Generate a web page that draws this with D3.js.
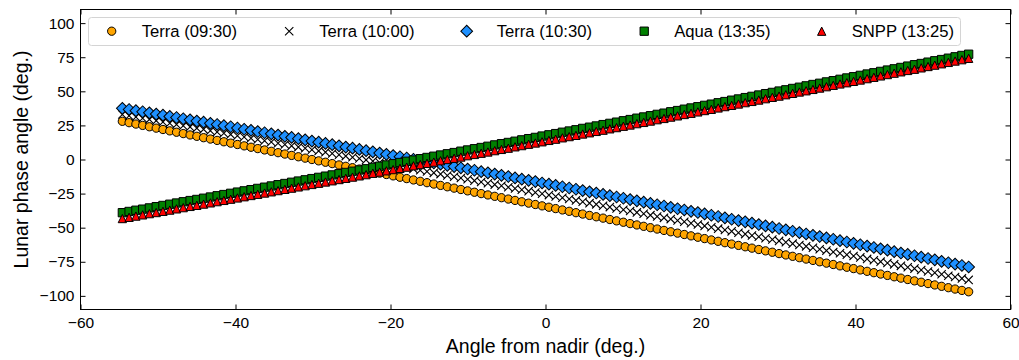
<!DOCTYPE html>
<html>
<head>
<meta charset="utf-8">
<script src="https://cdn.jsdelivr.net/npm/d3@7"></script>
<style>
  body { margin: 0; background: #fff; }
  text { font-family: "Liberation Sans", Arial, sans-serif; fill: #000; }
</style>
</head>
<body>
<div id="chart"></div>
<script>
/* global d3 */

// Angle from nadir (deg.), shared by every series
const nadirAngle = [
  -54.6, -53.73, -52.85, -51.98, -51.11, -50.23, -49.36, -48.48, -47.61, -46.74,
  -45.86, -44.99, -44.12, -43.24, -42.37, -41.5, -40.62, -39.75, -38.88, -38.0,
  -37.13, -36.25, -35.38, -34.51, -33.63, -32.76, -31.89, -31.01, -30.14, -29.27,
  -28.39, -27.52, -26.64, -25.77, -24.9, -24.02, -23.15, -22.28, -21.4, -20.53,
  -19.66, -18.78, -17.91, -17.04, -16.16, -15.29, -14.41, -13.54, -12.67, -11.79,
  -10.92, -10.05, -9.17, -8.3, -7.43, -6.55, -5.68, -4.8, -3.93, -3.06,
  -2.18, -1.31, -0.44, 0.44, 1.31, 2.18, 3.06, 3.93, 4.8, 5.68,
  6.55, 7.43, 8.3, 9.17, 10.05, 10.92, 11.79, 12.67, 13.54, 14.41,
  15.29, 16.16, 17.04, 17.91, 18.78, 19.66, 20.53, 21.4, 22.28, 23.15,
  24.02, 24.9, 25.77, 26.64, 27.52, 28.39, 29.27, 30.14, 31.01, 31.89,
  32.76, 33.63, 34.51, 35.38, 36.25, 37.13, 38.0, 38.88, 39.75, 40.62,
  41.5, 42.37, 43.24, 44.12, 44.99, 45.86, 46.74, 47.61, 48.48, 49.36,
  50.23, 51.11, 51.98, 52.85, 53.73, 54.6
]

// Lunar phase angle (deg.) per satellite
const terra0930 = [
  28, 27, 26, 25, 24, 23, 22, 21, 20, 19,
  18, 17, 16, 15, 14, 13, 12, 11, 10, 9,
  8, 7, 6, 5, 4, 3, 2, 1, 0, -1,
  -2, -3, -4, -5, -6, -7, -8, -9, -10, -11,
  -12, -13, -14, -15, -16, -17, -18, -19, -20, -21,
  -22, -23, -24, -25, -26, -27, -28, -29, -30, -31,
  -32, -33, -34, -35, -36, -37, -38, -39, -40, -41,
  -42, -43, -44, -45, -46, -47, -48, -49, -50, -51,
  -52, -53, -54, -55, -56, -57, -58, -59, -60, -61,
  -62, -63, -64, -65, -66, -67, -68, -69, -70, -71,
  -72, -73, -74, -75, -76, -77, -78, -79, -80, -81,
  -82, -83, -84, -85, -86, -87, -88, -89, -90, -91,
  -92, -93, -94, -95, -96, -97
]

const terra1000 = [
  33.0, 32.1, 31.2, 30.3, 29.4, 28.5, 27.5, 26.6, 25.7, 24.8,
  23.9, 23.0, 22.1, 21.1, 20.2, 19.3, 18.4, 17.4, 16.5, 15.6,
  14.7, 13.7, 12.8, 11.9, 11.0, 10.0, 9.1, 8.2, 7.2, 6.3,
  5.4, 4.4, 3.5, 2.5, 1.6, 0.7, -0.3, -1.2, -2.2, -3.1,
  -4.1, -5.0, -6.0, -6.9, -7.9, -8.8, -9.8, -10.7, -11.7, -12.6,
  -13.6, -14.5, -15.5, -16.5, -17.4, -18.4, -19.3, -20.3, -21.3, -22.2,
  -23.2, -24.2, -25.1, -26.1, -27.1, -28.1, -29.0, -30.0, -31.0, -32.0,
  -32.9, -33.9, -34.9, -35.9, -36.8, -37.8, -38.8, -39.8, -40.8, -41.8,
  -42.8, -43.7, -44.7, -45.7, -46.7, -47.7, -48.7, -49.7, -50.7, -51.7,
  -52.7, -53.7, -54.7, -55.7, -56.7, -57.7, -58.7, -59.7, -60.7, -61.7,
  -62.7, -63.7, -64.7, -65.8, -66.8, -67.8, -68.8, -69.8, -70.8, -71.8,
  -72.9, -73.9, -74.9, -75.9, -76.9, -78.0, -79.0, -80.0, -81.0, -82.1,
  -83.1, -84.1, -85.2, -86.2, -87.2, -88.3
]

const terra1030 = [
  37.5, 36.7, 35.8, 35.0, 34.2, 33.3, 32.5, 31.6, 30.8, 29.9,
  29.1, 28.2, 27.4, 26.5, 25.7, 24.8, 24.0, 23.1, 22.2, 21.4,
  20.5, 19.6, 18.8, 17.9, 17.0, 16.2, 15.3, 14.4, 13.5, 12.7,
  11.8, 10.9, 10.0, 9.1, 8.3, 7.4, 6.5, 5.6, 4.7, 3.8,
  2.9, 2.0, 1.1, 0.2, -0.7, -1.6, -2.5, -3.4, -4.3, -5.2,
  -6.1, -7.0, -7.9, -8.9, -9.8, -10.7, -11.6, -12.5, -13.5, -14.4,
  -15.3, -16.2, -17.2, -18.1, -19.0, -20.0, -20.9, -21.8, -22.8, -23.7,
  -24.6, -25.6, -26.5, -27.5, -28.4, -29.4, -30.3, -31.3, -32.2, -33.2,
  -34.1, -35.1, -36.1, -37.0, -38.0, -38.9, -39.9, -40.9, -41.8, -42.8,
  -43.8, -44.8, -45.7, -46.7, -47.7, -48.7, -49.6, -50.6, -51.6, -52.6,
  -53.6, -54.6, -55.6, -56.5, -57.5, -58.5, -59.5, -60.5, -61.5, -62.5,
  -63.5, -64.5, -65.5, -66.5, -67.6, -68.6, -69.6, -70.6, -71.6, -72.6,
  -73.6, -74.7, -75.7, -76.7, -77.7, -78.8
]

const aqua1335 = [
  -39.0, -38.1, -37.2, -36.4, -35.5, -34.6, -33.7, -32.8, -31.9, -31.0,
  -30.1, -29.3, -28.4, -27.5, -26.6, -25.7, -24.8, -23.9, -23.0, -22.1,
  -21.2, -20.3, -19.4, -18.5, -17.6, -16.7, -15.8, -14.9, -14.0, -13.1,
  -12.2, -11.3, -10.4, -9.5, -8.6, -7.7, -6.8, -5.8, -4.9, -4.0,
  -3.1, -2.2, -1.3, -0.4, 0.6, 1.5, 2.4, 3.3, 4.2, 5.1,
  6.1, 7.0, 7.9, 8.8, 9.7, 10.7, 11.6, 12.5, 13.4, 14.4,
  15.3, 16.2, 17.2, 18.1, 19.0, 20.0, 20.9, 21.8, 22.8, 23.7,
  24.6, 25.6, 26.5, 27.4, 28.4, 29.3, 30.3, 31.2, 32.1, 33.1,
  34.0, 35.0, 35.9, 36.9, 37.8, 38.7, 39.7, 40.6, 41.6, 42.5,
  43.5, 44.4, 45.4, 46.3, 47.3, 48.3, 49.2, 50.2, 51.1, 52.1,
  53.0, 54.0, 55.0, 55.9, 56.9, 57.8, 58.8, 59.8, 60.7, 61.7,
  62.7, 63.6, 64.6, 65.6, 66.5, 67.5, 68.5, 69.5, 70.4, 71.4,
  72.4, 73.3, 74.3, 75.3, 76.3, 77.2
]

const snpp1325 = [
  -43.3, -42.4, -41.5, -40.6, -39.7, -38.9, -38.0, -37.1, -36.2, -35.3,
  -34.4, -33.6, -32.7, -31.8, -30.9, -30.0, -29.1, -28.2, -27.3, -26.4,
  -25.5, -24.6, -23.7, -22.8, -21.9, -21.0, -20.1, -19.2, -18.3, -17.4,
  -16.5, -15.6, -14.7, -13.8, -12.9, -12.0, -11.1, -10.1, -9.2, -8.3,
  -7.4, -6.5, -5.6, -4.6, -3.7, -2.8, -1.9, -0.9, 0.0, 0.9,
  1.8, 2.8, 3.7, 4.6, 5.5, 6.5, 7.4, 8.3, 9.3, 10.2,
  11.2, 12.1, 13.0, 14.0, 14.9, 15.9, 16.8, 17.7, 18.7, 19.6,
  20.6, 21.5, 22.5, 23.4, 24.4, 25.3, 26.3, 27.2, 28.2, 29.2,
  30.1, 31.1, 32.0, 33.0, 33.9, 34.9, 35.9, 36.8, 37.8, 38.8,
  39.7, 40.7, 41.7, 42.6, 43.6, 44.6, 45.6, 46.5, 47.5, 48.5,
  49.5, 50.4, 51.4, 52.4, 53.4, 54.4, 55.4, 56.3, 57.3, 58.3,
  59.3, 60.3, 61.3, 62.3, 63.3, 64.3, 65.3, 66.2, 67.2, 68.2,
  69.2, 70.2, 71.2, 72.2, 73.2, 74.2
]

const seriesNames = ['Terra (09:30)', 'Terra (10:00)', 'Terra (10:30)', 'Aqua (13:35)', 'SNPP (13:25)']
const seriesValues = [terra0930, terra1000, terra1030, aqua1335, snpp1325]

// tick labels
const xTicks = [-60, -40, -20, 0, 20, 40, 60]
const yTicks = [-100, -75, -50, -25, 0, 25, 50, 75, 100]

// look of each series
const seriesColors = ['orange', 'black', '#1e90ff', 'green', 'red']
const seriesShapes = ['circle', 'cross', 'diamond', 'square', 'triangle']

// Our canvas
const width = 1019,
  height = 360,
  plotLeft = 80.5,
  plotRight = 1010.5,
  plotTop = 9.5,
  plotBottom = 309.5,
  markerSize = 8.3

let svg = d3.select('#chart')
  .append('svg')
  .attr('width', width)
  .attr('height', height)

const xScale = d3.scaleLinear().domain([-60, 60]).range([plotLeft, plotRight])
const yScale = d3.scaleLinear().domain([-110, 110]).range([plotBottom, plotTop])

// marker shapes, centred on 0,0
let markerPath = (shape, s) => {
  const h = s / 2
  if (shape === 'circle') return d3.symbol(d3.symbolCircle, Math.PI * h * h)()
  if (shape === 'square' || shape === 'diamond') return d3.symbol(d3.symbolSquare, s * s)()
  if (shape === 'triangle') return `M0,${-h}L${h},${h}L${-h},${h}Z`
  return `M${-h},${-h}L${h},${h}M${-h},${h}L${h},${-h}`
}

let styleMarker = (sel, k) => {
  const shape = seriesShapes[k]
  sel.attr('d', markerPath(shape, markerSize))
  if (shape === 'cross') {
    sel.attr('fill', 'none').attr('stroke', seriesColors[k]).attr('stroke-width', 1.1)
  } else {
    sel.attr('fill', seriesColors[k]).attr('stroke', '#000').attr('stroke-width', 1)
  }
}

let place = (px, py, shape) => `translate(${px},${py})` + (shape === 'diamond' ? ' rotate(45)' : '')

// axes: ticks pointing inwards on all four sides
let styleAxis = (g) => {
  g.selectAll('.domain').remove()
  g.selectAll('line').attr('stroke', '#000').attr('stroke-width', 1)
  g.selectAll('text').style('font-size', '15.5px').attr('fill', '#000')
}

svg.append('g')
  .attr('transform', `translate(0,${plotBottom})`)
  .call(d3.axisBottom(xScale).tickValues(xTicks).tickSizeInner(-5).tickSizeOuter(0).tickPadding(7))
  .call(styleAxis)

svg.append('g')
  .attr('transform', `translate(0,${plotTop})`)
  .call(d3.axisTop(xScale).tickValues(xTicks).tickSizeInner(-5).tickSizeOuter(0).tickFormat(''))
  .call(styleAxis)

svg.append('g')
  .attr('transform', `translate(${plotLeft},0)`)
  .call(d3.axisLeft(yScale).tickValues(yTicks).tickSizeInner(-5).tickSizeOuter(0).tickPadding(6))
  .call(styleAxis)

svg.append('g')
  .attr('transform', `translate(${plotRight},0)`)
  .call(d3.axisRight(yScale).tickValues(yTicks).tickSizeInner(-5).tickSizeOuter(0).tickFormat(''))
  .call(styleAxis)

// the scatter series, drawn in order
seriesValues.forEach((vals, k) => {
  svg.append('g')
    .selectAll('path')
    .data(vals)
    .join('path')
    .call(styleMarker, k)
    .attr('transform', (d, i) => place(xScale(nadirAngle[i]), yScale(d), seriesShapes[k]))
})

// frame
svg.append('rect')
  .attr('x', plotLeft)
  .attr('y', plotTop)
  .attr('width', plotRight - plotLeft)
  .attr('height', plotBottom - plotTop)
  .attr('fill', 'none')
  .attr('stroke', '#000')
  .attr('stroke-width', 1)

// axis titles
svg.append('text')
  .attr('x', (plotLeft + plotRight) / 2)
  .attr('y', 353)
  .attr('text-anchor', 'middle')
  .style('font-size', '19.5px')
  .text('Angle from nadir (deg.)')

svg.append('text')
  .attr('transform', `translate(28,${(plotTop + plotBottom) / 2}) rotate(-90)`)
  .attr('text-anchor', 'middle')
  .style('font-size', '19.5px')
  .text('Lunar phase angle (deg.)')

// legend, one row
const legendX = 88, legendY = 17, legendW = 872, legendH = 28, legendStep = 177.5

let legend = svg.append('g')
legend.append('rect')
  .attr('x', legendX + 0.5)
  .attr('y', legendY + 0.5)
  .attr('width', legendW)
  .attr('height', legendH)
  .attr('rx', 3)
  .attr('fill', '#fff')
  .attr('fill-opacity', 0.8)
  .attr('stroke', '#d4d4d4')
  .attr('stroke-width', 1)

seriesNames.forEach((name, k) => {
  const mx = legendX + 23.7 + k * legendStep
  const my = legendY + legendH / 2 + 0.2
  legend.append('path')
    .call(styleMarker, k)
    .attr('transform', place(mx, my, seriesShapes[k]))
  legend.append('text')
    .attr('x', mx + 30)
    .attr('y', my + 6)
    .style('font-size', '16.67px')
    .text(name)
})
</script>
</body>
</html>
